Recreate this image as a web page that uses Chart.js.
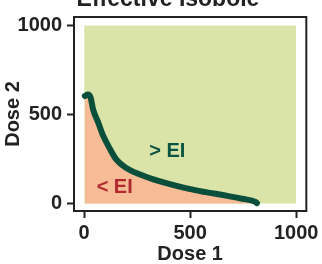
<!DOCTYPE html>
<html>
<head>
<meta charset="utf-8">
<script src="https://cdn.jsdelivr.net/npm/chart.js@4.4.0/dist/chart.umd.min.js"></script>
<style>
  html, body { margin: 0; padding: 0; background: #fff; }
  #wrap { width: 322px; height: 264px; }
</style>
</head>
<body>
<div id="wrap"><canvas id="myChart"></canvas></div>
<script>
// dane krzywej izoboli (Dose 1 -> Dose 2)
var dose1 = [3, 17, 31, 42, 66, 89, 120, 152, 199, 261, 323, 400, 495, 574, 667, 745, 808, 815];
var dose2 = [604, 612, 593, 529, 456, 383, 310, 246, 200, 164, 137, 110, 82, 64, 45, 27, 9, 2];
// prostokat tla 0..1000
var regionX = [0, 1000];
var regionY = [1000, 1000];
var tickLabels = [0, 500, 1000];
var labelAbove = { text: '> EI', x: 392, y: 292 };
var labelBelow = { text: '< EI', x: 144, y: 91 };

var font = 'Liberation Sans, Arial, Helvetica, sans-serif';
var ink = '#222222';

function points(xs, ys) {
    return xs.map(function (x, i) { return { x: x, y: ys[i] }; });
}

// ramka wokol obszaru wykresu + tytul + napisy EI
var extras = {
    id: 'extras',
    afterDraw: function (chart) {
        var c = chart.ctx;
        var a = chart.chartArea;
        var sx = chart.scales.x, sy = chart.scales.y;
        c.save();
        c.strokeStyle = ink;
        c.lineWidth = 2;
        c.strokeRect(a.left, a.top, a.right - a.left, a.bottom - a.top);

        c.textAlign = 'center';
        c.textBaseline = 'middle';
        c.font = 'bold 20px ' + font;
        c.fillStyle = '#0b5443';
        c.fillText(labelAbove.text, sx.getPixelForValue(labelAbove.x), sy.getPixelForValue(labelAbove.y));
        c.fillStyle = '#b02a2e';
        c.fillText(labelBelow.text, sx.getPixelForValue(labelBelow.x), sy.getPixelForValue(labelBelow.y));

        c.fillStyle = ink;
        c.textBaseline = 'alphabetic';
        c.font = 'bold 23px ' + font;
        c.fillText('Effective Isobole', 168, 6);
        c.restore();
    }
};

function fixTicks(scale) {
    scale.ticks = tickLabels.map(function (v) { return { value: v }; });
}

function plainLabel(v) {
    return String(v);
}

var ctx = document.getElementById('myChart').getContext('2d');

var chart = new Chart(ctx, {
    type: 'line',
    data: {
        datasets: [{
            label: 'Isobole',
            data: points(dose1, dose2),
            borderColor: '#0a4f3c',
            backgroundColor: '#f7bc96',
            borderWidth: 6,
            borderCapStyle: 'round',
            borderJoinStyle: 'round',
            pointRadius: 0,
            cubicInterpolationMode: 'monotone',
            fill: 'origin'
        },
        {
            label: 'Region',
            data: points(regionX, regionY),
            borderWidth: 0,
            borderColor: 'rgba(0,0,0,0)',
            backgroundColor: '#dae4a8',
            pointRadius: 0,
            fill: 'origin'
        }]
    },
    options: {
        responsive: true,
        maintainAspectRatio: false,
        animation: false,
        layout: { padding: { top: 12, right: 14, left: 0, bottom: 0 } },
        plugins: {
            legend: { display: false },
            tooltip: { enabled: false }
        },
        scales: {
            x: {
                type: 'linear',
                min: -48,
                max: 1048,
                afterBuildTicks: fixTicks,
                afterFit: function (s) { s.height = 53; },
                grid: { drawOnChartArea: false, drawTicks: true, tickLength: 7, tickColor: ink, tickWidth: 2 },
                border: { display: true, color: ink, width: 2 },
                ticks: { color: ink, padding: 3, callback: plainLabel, font: { family: font, size: 20, weight: 'bold' } },
                title: {
                    display: true,
                    text: 'Dose 1',
                    color: ink,
                    padding: 0,
                    font: { family: font, size: 20, weight: 'bold', lineHeight: 1.0 }
                }
            },
            y: {
                type: 'linear',
                min: -42,
                max: 1048,
                afterBuildTicks: fixTicks,
                afterFit: function (s) { s.width = 74; },
                grid: { drawOnChartArea: false, drawTicks: true, tickLength: 7, tickColor: ink, tickWidth: 2 },
                border: { display: true, color: ink, width: 2 },
                ticks: { color: ink, padding: 5, callback: plainLabel, font: { family: font, size: 20, weight: 'bold' } },
                title: {
                    display: true,
                    text: 'Dose 2',
                    color: ink,
                    padding: 1,
                    font: { family: font, size: 20, weight: 'bold' }
                }
            }
        }
    },
    plugins: [extras]
});
</script>
</body>
</html>
